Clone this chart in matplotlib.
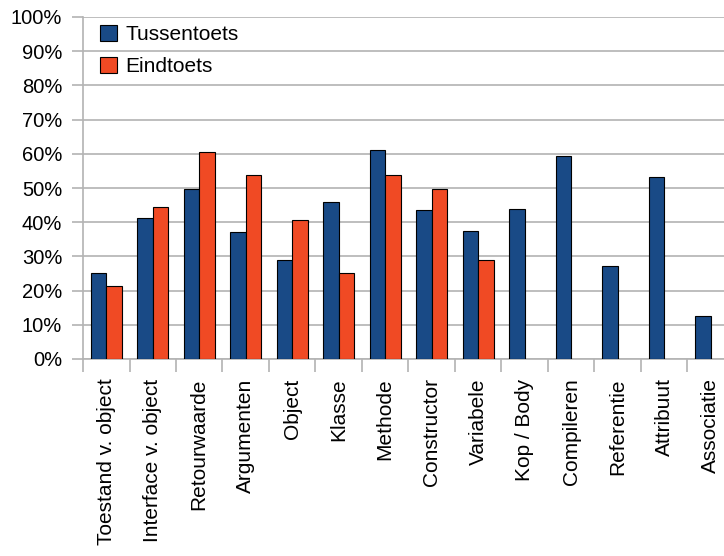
import numpy as np
import matplotlib.pyplot as plt

plt.rcParams['font.family'] = ['Liberation Sans', 'DejaVu Sans']

categories = ['Toestand v. object', 'Interface v. object', 'Retourwaarde',
              'Argumenten', 'Object', 'Klasse', 'Methode', 'Constructor',
              'Variabele', 'Kop / Body', 'Compileren', 'Referentie',
              'Attribuut', 'Associatie']
tussentoets = [25.1, 41.1, 49.8, 37.2, 28.9, 45.9, 61.2, 43.5,
               37.3, 43.9, 59.4, 27.1, 53.1, 12.6]
# no final-test score for the last five topics
eindtoets = [21.3, 44.4, 60.4, 53.7, 40.5, 25.1, 53.7, 49.7,
             28.9, None, None, None, None, None]
yticks = list(range(0, 101, 10))

blue = '#194a86'
orange = '#f04a24'
grid = '#b3b3b3'

fig = plt.figure(figsize=(7.24, 5.56), dpi=100)
ax = fig.add_axes([83/724, 197/556, 651/724, 342/556])

x = np.arange(len(categories))
w = 0.33
ax.bar(x - w/2, tussentoets, w, color=blue, edgecolor='black', linewidth=0.8,
       label='Tussentoets', zorder=3)
ex = [i for i, v in enumerate(eindtoets) if v is not None]
ev = [eindtoets[i] for i in ex]
ax.bar(np.array(ex) + w/2, ev, w, color=orange, edgecolor='black',
       linewidth=0.8, label='Eindtoets', zorder=3)

ax.set_xlim(-0.5, len(categories) - 0.5)
ax.set_ylim(0, 100)
ax.set_yticks(yticks)
ax.set_yticklabels([f'{v}%' for v in yticks], fontsize=14.5)
ax.yaxis.grid(True, color=grid, linewidth=1.2, zorder=0)
ax.tick_params(axis='y', length=8, color=grid, width=1.2, pad=7)

ax.set_xticks(x)
ax.set_xticklabels(categories, rotation=90, fontsize=15, va='top')
ax.set_xticks(np.arange(len(categories) + 1) - 0.5, minor=True)
ax.tick_params(axis='x', which='major', length=0, pad=14)
ax.tick_params(axis='x', which='minor', length=9, color=grid, width=1.2)

for s in ['top', 'right']:
    ax.spines[s].set_visible(False)
for s in ['left', 'bottom']:
    ax.spines[s].set_color(grid)
    ax.spines[s].set_linewidth(1.2)
    ax.spines[s].set_zorder(2)

ax.legend(loc='upper left', bbox_to_anchor=(100/724, 1 - 25/556),
          bbox_transform=fig.transFigure, frameon=False, fontsize=15,
          handlelength=0.82, handleheight=0.82, handletextpad=0.4,
          labelspacing=0.6, borderpad=0, borderaxespad=0)

fig.savefig('out.png', dpi=100)
